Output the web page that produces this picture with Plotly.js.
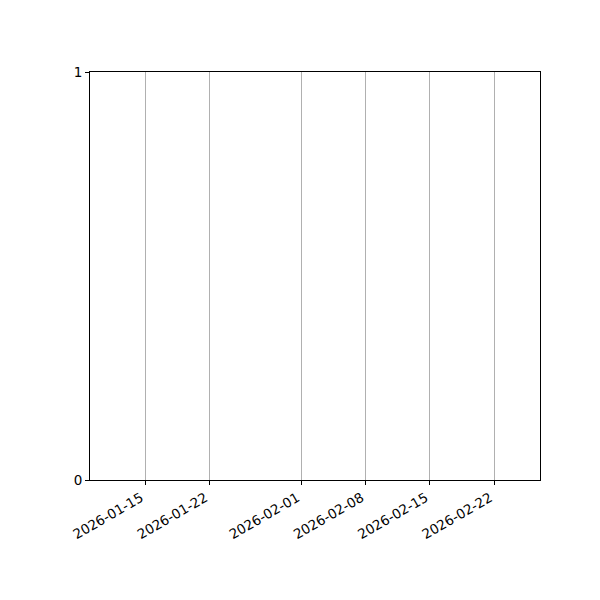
<!DOCTYPE html>
<html>
<head>
<meta charset="utf-8">
<script src="https://cdn.plot.ly/plotly-3.0.1.min.js"></script>
<style>html,body{margin:0;padding:0;background:#fff;}#chart{width:600px;height:600px;}</style>
</head>
<body>
<div id="chart"></div>
<script>
const xDates = [];
const yValues = [];
const xTickVals = ['2026-01-15','2026-01-22','2026-02-01','2026-02-08','2026-02-15','2026-02-22'];
const xTickText = ['2026-01-15','2026-01-22','2026-02-01','2026-02-08','2026-02-15','2026-02-22'];
const xRange = ['2026-01-09','2026-02-27'];
const yTickVals = [0, 1];
const yTickText = ['0', '1'];

const data = [{
  type: 'scatter', mode: 'lines', x: xDates, y: yValues,
  line: {color: '#1f77b4'}, showlegend: false
}];

const layout = {
  width: 600, height: 600,
  margin: {l: 90, r: 60, t: 72, b: 120, pad: 0},
  paper_bgcolor: '#fff', plot_bgcolor: '#fff',
  font: {family: 'DejaVu Sans', size: 13.5, color: '#000'},
  showlegend: false,
  xaxis: {
    type: 'date', range: xRange, tickmode: 'array',
    tickvals: xTickVals, ticktext: xTickText, tickangle: -30,
    ticklabelshift: -4,
    showgrid: true, gridcolor: '#b0b0b0', gridwidth: 1,
    showline: true, linecolor: '#000', linewidth: 1, mirror: true,
    ticks: 'outside', ticklen: 4, tickcolor: '#000', tickwidth: 1,
    zeroline: false, fixedrange: true
  },
  yaxis: {
    range: [0, 1], tickmode: 'array', tickvals: yTickVals, ticktext: yTickText,
    showgrid: false, zeroline: false,
    showline: true, linecolor: '#000', linewidth: 1, mirror: true,
    ticks: 'outside', ticklen: 4, tickcolor: '#000', tickwidth: 1,
    fixedrange: true
  }
};
Plotly.newPlot('chart', data, layout, {displayModeBar: false, staticPlot: true});
</script>
</body>
</html>
